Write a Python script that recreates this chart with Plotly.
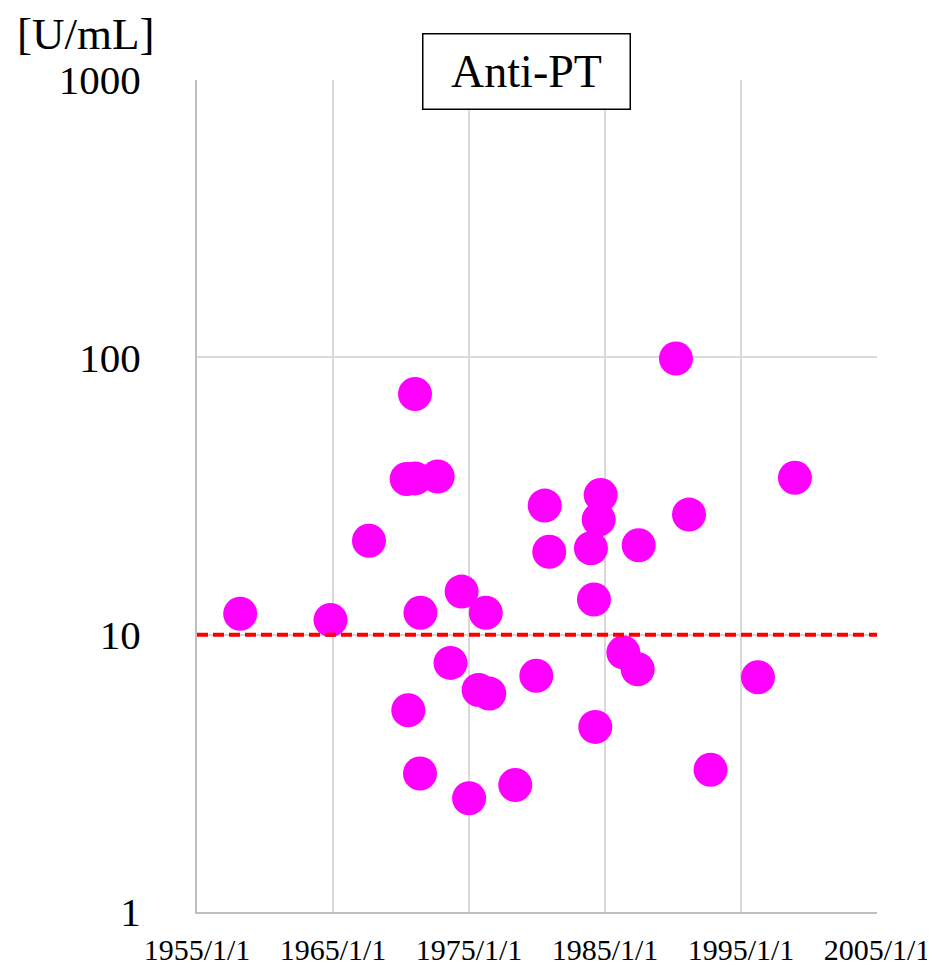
import plotly.graph_objects as go

dates = [
    "1958-03-06", "1964-10-26", "1967-08-24", "1971-01-12", "1970-06-01",
    "1971-01-12", "1972-09-12", "1971-06-07", "1974-06-17", "1976-03-27",
    "1980-07-27", "1980-11-25", "1984-09-06", "1984-07-15", "1983-12-20",
    "1987-06-24", "1984-03-10", "1990-03-21", "1991-03-07", "1998-12-20",
    "1986-05-08", "1987-05-29", "1973-08-22", "1975-09-16", "1976-06-28",
    "1979-12-14", "1996-04-01", "1970-07-16", "1984-04-15", "1971-05-26",
    "1975-01-04", "1978-05-27", "1992-10-05",
]
anti_pt = [
    11.9, 11.3, 21.8, 73.8, 36.4,
    36.6, 37.2, 12.0, 14.3, 12.0,
    29.2, 19.9, 31.9, 26.0, 20.5,
    21.0, 13.4, 99.0, 27.1, 36.8,
    8.63, 7.50, 7.91, 6.32, 6.13,
    7.11, 7.02, 5.34, 4.65, 3.16,
    2.57, 2.87, 3.26,
]
threshold = 10
x_range = ["1955-01-01", "2005-01-01"]
x_tickvals = ["1955-01-01", "1965-01-01", "1975-01-01", "1985-01-01", "1995-01-01", "2005-01-01"]
x_ticktext = ["1955/1/1", "1965/1/1", "1975/1/1", "1985/1/1", "1995/1/1", "2005/1/1"]
y_tickvals = [1, 10, 100, 1000]
y_ticktext = ["1", "10", "100", "1000"]

FONT = "Liberation Serif, Times New Roman, serif"

fig = go.Figure()
fig.add_trace(go.Scatter(
    x=dates, y=anti_pt, mode="markers",
    marker=dict(color="#FF00FF", size=34, line=dict(width=0)),
    showlegend=False, hoverinfo="x+y",
))
fig.add_trace(go.Scatter(
    x=x_range, y=[threshold, threshold], mode="lines",
    line=dict(color="#FF0000", width=4, dash="11px,5px"),
    showlegend=False, hoverinfo="skip",
))

fig.update_layout(
    width=927, height=959,
    margin=dict(l=189, r=58, t=72, b=55),
    paper_bgcolor="white", plot_bgcolor="white",
    font=dict(family=FONT, color="black"),
    xaxis=dict(
        type="date", range=x_range, automargin=False,
        tickvals=x_tickvals, ticktext=x_ticktext,
        tickfont=dict(size=30, family=FONT, color="black"),
        showgrid=True, gridcolor="#d9d9d9", gridwidth=1.5,
        showline=True, linecolor="#bfbfbf", linewidth=2,
        zeroline=False, ticks="", ticklabelstandoff=10,
    ),
    yaxis=dict(
        type="log", range=[0, 3], automargin=False,
        tickvals=y_tickvals, ticktext=y_ticktext,
        tickfont=dict(size=41, family=FONT, color="black"),
        showgrid=True, gridcolor="#d9d9d9", gridwidth=1.5,
        showline=True, linecolor="#bfbfbf", linewidth=2,
        zeroline=False, ticks="", ticklabelstandoff=46,
    ),
    annotations=[
        dict(
            text="Anti-PT", xref="paper", yref="paper",
            x=0.4846, y=1.0102, xanchor="center", yanchor="middle",
            showarrow=False, font=dict(size=46, family=FONT, color="black"),
            bordercolor="black", borderwidth=1.5, borderpad=0,
            bgcolor="white", width=206, height=74,
        ),
        dict(
            text="[U/mL]", xref="paper", yref="paper",
            x=-0.1647, y=1.0865, xanchor="center", yanchor="top",
            showarrow=False, font=dict(size=45, family=FONT, color="black"),
            borderpad=0,
        ),
    ],
)

fig.write_html("out.html")
